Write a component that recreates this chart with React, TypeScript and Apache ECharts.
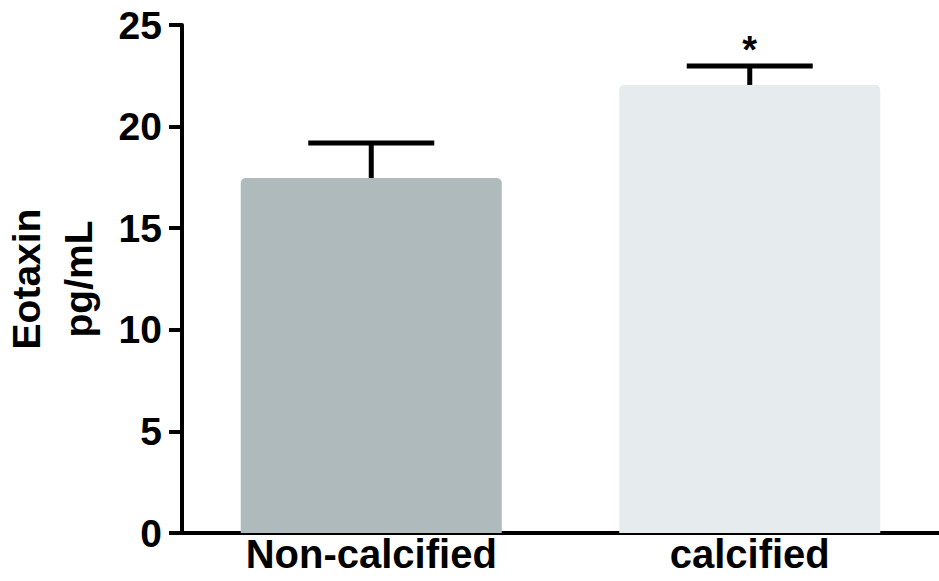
import React, { useEffect, useRef } from "react";
import * as echarts from "echarts";

const categories = ["Non-calcified", "calcified"];
const means = [17.47, 22.05];
const errors = [1.72, 0.93];
const significance = ["", "*"];
const barColors = ["#afbabd", "#e6eced"];
const yTicks = { min: 0, max: 25, interval: 5 };

const FONT = "'Liberation Sans', Arial, Helvetica, sans-serif";

export default function App() {
  const ref = useRef<HTMLDivElement>(null);
  useEffect(() => {
    if (!ref.current) return;
    const chart = echarts.init(ref.current, undefined, { renderer: "svg" });
    chart.setOption({
      animation: false,
      backgroundColor: "#ffffff",
      grid: {
        left: 182,
        right: 0,
        top: 25,
        bottom: 48,
        containLabel: false,
        outerBoundsMode: "none",
      },
      xAxis: {
        type: "category",
        data: categories,
        axisLine: { show: true, lineStyle: { color: "#000", width: 4 } },
        axisTick: { show: false },
        axisLabel: {
          color: "#000",
          fontFamily: FONT,
          fontWeight: "bold",
          fontSize: 40,
          margin: 1,
        },
      },
      yAxis: {
        type: "value",
        min: yTicks.min,
        max: yTicks.max,
        interval: yTicks.interval,
        splitLine: { show: false },
        axisLine: { show: true, lineStyle: { color: "#000", width: 4 } },
        axisTick: { show: true, length: 13, lineStyle: { color: "#000", width: 4 } },
        axisLabel: {
          color: "#000",
          fontFamily: FONT,
          fontWeight: "bold",
          fontSize: 39,
          margin: 20,
        },
        name: "Eotaxin\npg/mL",
        nameLocation: "middle",
        nameRotate: 90,
        nameGap: 78,
        nameTextStyle: {
          color: "#000",
          fontFamily: FONT,
          fontWeight: "bold",
          fontSize: 39,
          lineHeight: 52,
        },
      },
      series: [
        {
          type: "bar",
          data: means.map((v, i) => ({ value: v, itemStyle: { color: barColors[i] } })),
          barWidth: 261,
          itemStyle: { borderRadius: [5, 5, 0, 0] },
          z: 1,
        },
        {
          type: "custom",
          z: 5,
          data: means.map((v, i) => [i, v, v + errors[i]]),
          renderItem: (params: any, api: any) => {
            const idx = api.value(0);
            const lo = api.coord([idx, api.value(1)]);
            const hi = api.coord([idx, api.value(2)]);
            const half = 63;
            const style = { stroke: "#000", lineWidth: 5 };
            const children: any[] = [
              { type: "line", shape: { x1: lo[0], y1: lo[1], x2: hi[0], y2: hi[1] }, style },
              { type: "line", shape: { x1: hi[0] - half, y1: hi[1], x2: hi[0] + half, y2: hi[1] }, style },
            ];
            const sig = significance[params.dataIndex];
            if (sig) {
              children.push({
                type: "text",
                x: hi[0],
                y: hi[1] + 3,
                style: {
                  text: sig,
                  fill: "#000",
                  font: `bold 38px ${FONT}`,
                  textAlign: "center",
                  textVerticalAlign: "bottom",
                },
              });
            }
            return { type: "group", children };
          },
        },
      ],
    });
    return () => chart.dispose();
  }, []);
  return (
    <div
      ref={ref}
      style={{ position: "fixed", left: 0, top: 0, width: 939, height: 581 }}
    />
  );
}
